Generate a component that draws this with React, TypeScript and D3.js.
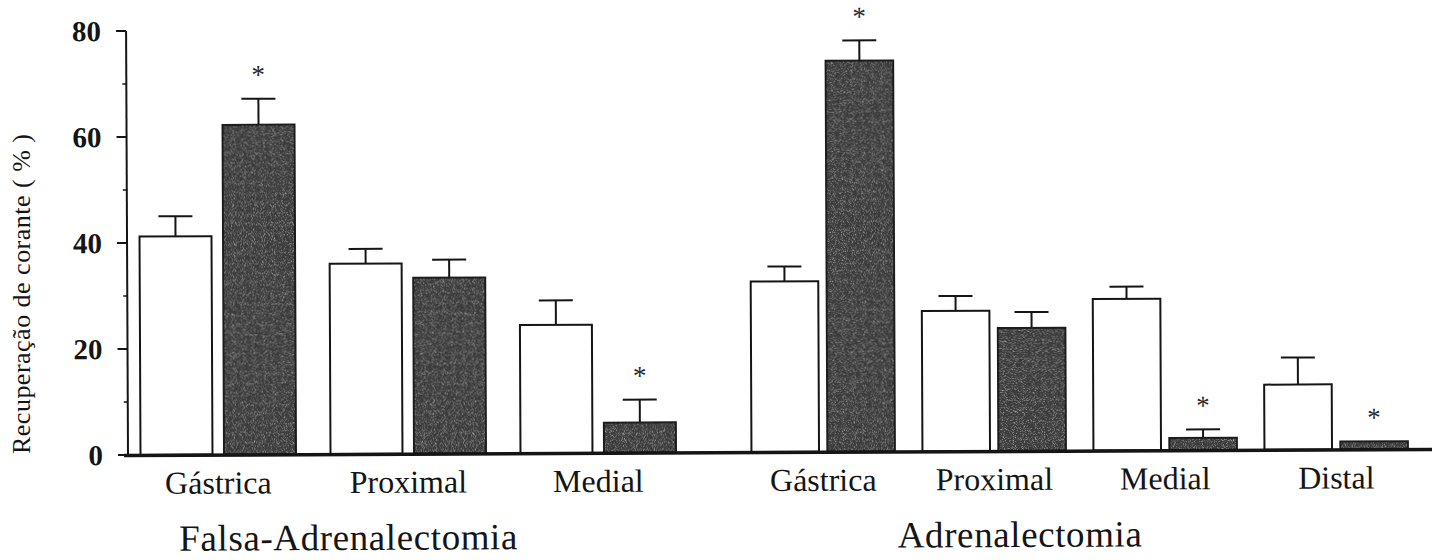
import React from "react";
import * as d3 from "d3";

// Regiões do trato gastrintestinal em cada grupo experimental
const grupos = ["Falsa-Adrenalectomia", "Adrenalectomia"];
const regioesFalsa = ["Gástrica", "Proximal", "Medial"];
const regioesAdren = ["Gástrica", "Proximal", "Medial", "Distal"];

// Recuperação de corante (%) — média e EPM, barras brancas (controle) e escuras (tratado)
const falsaControle = [41.2, 35.9, 24.2];
const falsaControleEpm = [3.8, 2.8, 4.6];
const falsaTratado = [62.2, 33.2, 5.7];
const falsaTratadoEpm = [4.9, 3.4, 4.3];
const falsaSignificativo = [true, false, true];

const adrenControle = [32.2, 26.5, 28.6, 12.3];
const adrenControleEpm = [2.8, 2.8, 2.3, 5.1];
const adrenTratado = [73.8, 23.2, 2.3, 1.5];
const adrenTratadoEpm = [3.8, 3.0, 1.6, 0];
const adrenSignificativo = [true, false, true, true];

const yTicks = [0, 20, 40, 60, 80];
const yMinorTicks = [10, 30, 50, 70];
const yLabel = "Recuperação de corante ( % )";

const series = ["controle", "tratado"];

const W = 1432;
const H = 560;
const SERIF = "'Liberation Serif', 'Times New Roman', Times, serif";
const INK = "#151515";

const y = d3.scaleLinear().domain([0, 80]).range([455, 31]);
const axisX = 128;

// Layout of each panel along the x axis
const panelLayout = [
  { range: [123.25, 693.25], outer: 0.1816, inner: 0.138 },
  { range: [737.7, 1421.7], outer: 0.161, inner: 0.11 },
];

const panelData = [
  {
    title: grupos[0],
    regions: regioesFalsa,
    ctrl: falsaControle,
    ctrlErr: falsaControleEpm,
    trat: falsaTratado,
    tratErr: falsaTratadoEpm,
    sig: falsaSignificativo,
  },
  {
    title: grupos[1],
    regions: regioesAdren,
    ctrl: adrenControle,
    ctrlErr: adrenControleEpm,
    trat: adrenTratado,
    tratErr: adrenTratadoEpm,
    sig: adrenSignificativo,
  },
];

function ErrorBar({ cx, v, e }: { cx: number; v: number; e: number }) {
  if (!e) return null;
  const top = y(v + e);
  return (
    <g stroke={INK} strokeWidth={2}>
      <line x1={cx} x2={cx} y1={y(v)} y2={top} />
      <line x1={cx - 17} x2={cx + 17} y1={top} y2={top} />
    </g>
  );
}

function Panel({ idx }: { idx: number }) {
  const d = panelData[idx];
  const lay = panelLayout[idx];
  const x = d3
    .scaleBand<string>()
    .domain(d.regions)
    .range(lay.range as [number, number])
    .paddingInner(lay.outer)
    .paddingOuter(lay.outer / 2);
  const xs = d3
    .scaleBand<string>()
    .domain(series)
    .range([0, x.bandwidth()])
    .paddingInner(lay.inner)
    .paddingOuter(0);
  const bw = xs.bandwidth();
  const [r0, r1] = lay.range;

  return (
    <g>
      {d.regions.map((reg, i) => {
        const bx = x(reg)!;
        const xc = bx + xs("controle")!;
        const xt = bx + xs("tratado")!;
        const vc = d.ctrl[i];
        const vt = d.trat[i];
        const capT = y(vt + d.tratErr[i]);
        return (
          <g key={reg}>
            <ErrorBar cx={xc + bw / 2} v={vc} e={d.ctrlErr[i]} />
            <ErrorBar cx={xt + bw / 2} v={vt} e={d.tratErr[i]} />
            <rect
              x={xc}
              y={y(vc)}
              width={bw}
              height={y(0) - y(vc)}
              fill="#fff"
              stroke={INK}
              strokeWidth={2}
            />
            <rect
              x={xt}
              y={y(vt)}
              width={bw}
              height={y(0) - y(vt)}
              fill="#3a3a3a"
              stroke="#1c1c1c"
              strokeWidth={2}
            />
            <rect
              x={xt + 1}
              y={y(vt) + 1}
              width={bw - 2}
              height={Math.max(0, y(0) - y(vt) - 2)}
              fill="#000"
              filter="url(#grao)"
            />
            {d.sig[i] && (
              <text
                x={xt + bw / 2}
                y={capT - 15}
                textAnchor="middle"
                fontFamily={SERIF}
                fontSize={27}
                fill="#2a2a2a"
              >
                *
              </text>
            )}
            <text
              x={bx + x.bandwidth() / 2}
              y={494}
              textAnchor="middle"
              fontFamily={SERIF}
              fontSize={32}
              fill={INK}
            >
              {reg}
            </text>
          </g>
        );
      })}
      <text
        x={(r0 + r1) / 2 - 60}
        y={551}
        textAnchor="middle"
        fontFamily={SERIF}
        fontSize={37}
        letterSpacing={0.6}
        fill={INK}
      >
        {d.title}
      </text>
    </g>
  );
}

export default function App() {
  return (
    <svg
      width={W}
      height={H}
      viewBox={`0 0 ${W} ${H}`}
      style={{ position: "absolute", left: 0, top: 0, background: "#fff" }}
    >
      <defs>
        <filter id="grao" x="0" y="0" width="1" height="1">
          <feTurbulence
            type="fractalNoise"
            baseFrequency="1.1"
            numOctaves={1}
            seed={7}
            result="ruido"
          />
          <feColorMatrix
            in="ruido"
            type="matrix"
            values="0 0 0 0 0.82  0 0 0 0 0.82  0 0 0 0 0.82  2.4 0 0 0 -1.2"
            result="pontos"
          />
          <feComposite in="pontos" in2="SourceGraphic" operator="in" />
        </filter>
      </defs>
      <rect width={W} height={H} fill="#fff" />

      <text
        transform={`translate(30,294) rotate(-90)`}
        textAnchor="middle"
        fontFamily={SERIF}
        fontSize={26}
        textLength={320}
        lengthAdjust="spacing"
        fill={INK}
      >
        {yLabel}
      </text>

      <g transform="rotate(-0.26 128 455)">
        {/* eixo y */}
        <line x1={axisX} x2={axisX} y1={y(80)} y2={y(0)} stroke={INK} strokeWidth={2} />
        {yTicks.map((t) => (
          <g key={t}>
            <line x1={axisX - 10} x2={axisX} y1={y(t)} y2={y(t)} stroke={INK} strokeWidth={2} />
            <text
              x={103}
              y={y(t) + 10}
              textAnchor="end"
              fontFamily={SERIF}
              fontWeight="bold"
              fontSize={29}
              fill={INK}
            >
              {t}
            </text>
          </g>
        ))}
        {yMinorTicks.map((t) => (
          <line key={t} x1={axisX - 4} x2={axisX} y1={y(t)} y2={y(t)} stroke={INK} strokeWidth={1.5} />
        ))}

        {panelData.map((_, i) => (
          <Panel key={i} idx={i} />
        ))}

        {/* linha de base */}
        <line x1={124} x2={W} y1={y(0) + 0.5} y2={y(0) + 0.5} stroke={INK} strokeWidth={3.5} />
      </g>
    </svg>
  );
}
